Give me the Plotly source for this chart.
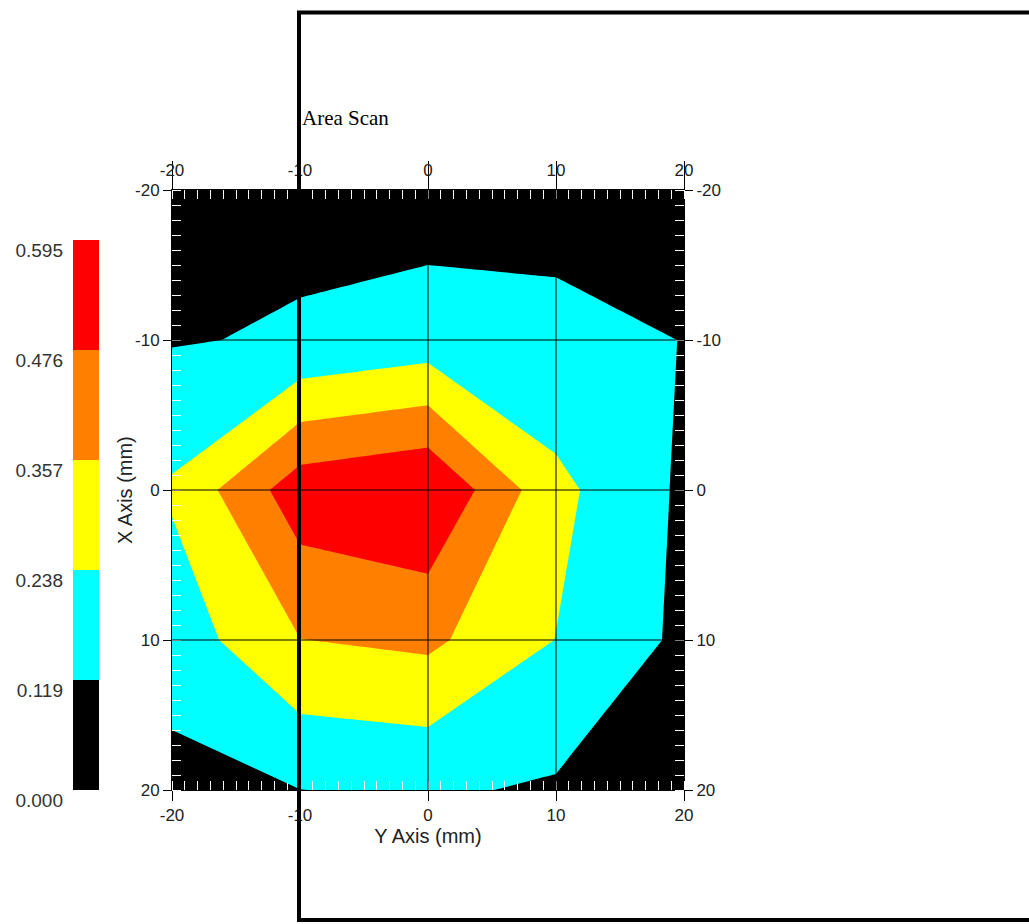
import plotly.graph_objects as go

# ---------------- data ----------------
y_axis_mm = [-20, -10, 0, 10, 20]          # horizontal axis ("Y Axis (mm)")
x_axis_mm = [-20, -10, 0, 10, 20]          # vertical axis ("X Axis (mm)"), top = -20
# rows follow x_axis_mm (top to bottom), columns follow y_axis_mm (left to right)
row_m20 = [0.050, 0.091, 0.064, 0.094, 0.060]
row_m10 = [0.112, 0.130, 0.174, 0.137, 0.118]
row_0 = [0.253, 0.545, 0.595, 0.270, 0.100]
row_p10 = [0.170, 0.355, 0.382, 0.236, 0.095]
row_p20 = [0.085, 0.118, 0.134, 0.105, 0.050]
z_grid = [row_m20, row_m10, row_0, row_p10, row_p20]

levels = [0.000, 0.119, 0.238, 0.357, 0.476, 0.595]
level_labels = ["0.000", "0.119", "0.238", "0.357", "0.476", "0.595"]
band_colors = ["#000000", "#00FFFF", "#FFFF00", "#FF8000", "#FF0000"]
axis_ticks = [-20, -10, 0, 10, 20]
axis_tick_labels = ["-20", "-10", "0", "10", "20"]
grid_ticks = [-10, 0, 10]

# ---------------- layout helpers ----------------
W, H = 1029, 924


def fx(p):
    return p / W


def fy(p):
    return 1 - p / H


n = len(band_colors)
colorscale = [[i / (n - 1), c] for i, c in enumerate(band_colors)]

fig = go.Figure()

fig.add_trace(go.Contour(
    x=y_axis_mm, y=x_axis_mm, z=z_grid,
    colorscale=colorscale, showscale=False,
    contours=dict(start=levels[1], end=levels[-2], size=levels[1] - levels[0],
                  coloring="fill", showlines=False),
    line=dict(width=0, smoothing=0),
    hoverinfo="skip",
))

# colour key as a stacked heatmap column
fig.add_trace(go.Heatmap(
    x=[0, 1], y=levels, z=[[i] for i in range(n)],
    colorscale=colorscale, zmin=0, zmax=n - 1, showscale=False,
    xaxis="x3", yaxis="y3", hoverinfo="skip",
))

FONT = "Liberation Sans, Arial, sans-serif"
tickfont = dict(family=FONT, size=17, color="#222")
titlefont = dict(family=FONT, size=20, color="#222")
minor_common = dict(ticks="inside", dtick=1, ticklen=9, tickcolor="white", tickwidth=1)

common_x = dict(range=[-20, 20], tickvals=axis_ticks, ticktext=axis_tick_labels,
                showgrid=False, zeroline=False,
                showline=True, linecolor="black", linewidth=1, ticks="outside",
                tickcolor="black", tickfont=tickfont, layer="above traces",
                minor=minor_common, domain=[fx(172), fx(684)], automargin=False)
common_y = dict(range=[20, -20], tickvals=axis_ticks, ticktext=axis_tick_labels,
                showgrid=False, zeroline=False,
                showline=True, linecolor="black", linewidth=1, ticks="outside",
                tickcolor="black", tickfont=tickfont, layer="above traces",
                minor=minor_common, domain=[fy(790), fy(190)], automargin=False)

fig.update_layout(
    width=W, height=H, margin=dict(l=0, r=0, t=0, b=0, autoexpand=False),
    paper_bgcolor="white", plot_bgcolor="black", showlegend=False,
    xaxis=dict(**common_x, side="bottom", anchor="y", ticklen=10,
               title=dict(text="Y Axis (mm)", font=titlefont, standoff=4)),
    xaxis2=dict(**common_x, side="top", anchor="y", overlaying="x", matches="x",
                ticklen=28, ticklabelstandoff=-22),
    yaxis=dict(**common_y, side="left", anchor="x", ticklen=8),
    yaxis2=dict(**common_y, side="right", anchor="x", overlaying="y", matches="y",
                ticklen=8),
    xaxis3=dict(domain=[fx(73), fx(99)], range=[0, 1], anchor="y3", automargin=False,
                showticklabels=False, showgrid=False, zeroline=False, ticks=""),
    yaxis3=dict(domain=[fy(790), fy(240)], range=[levels[0], levels[-1]], anchor="x3",
                tickvals=levels, ticktext=level_labels, ticks="", showgrid=False,
                zeroline=False, side="left", automargin=False,
                tickfont=dict(family=FONT, size=19, color="#333"),
                ticklabelstandoff=9, ticklabelshift=10),
)

# vertical axis title
fig.add_annotation(text="X Axis (mm)", xref="paper", yref="paper", x=fx(125), y=fy(490),
                   textangle=-90, showarrow=False, xanchor="center", yanchor="middle",
                   font=titlefont)

# grid lines drawn over the filled contours
for g in grid_ticks:
    fig.add_shape(type="line", xref="x", yref="y", x0=g, x1=g, y0=-20, y1=20,
                  line=dict(color="black", width=1), layer="above")
    fig.add_shape(type="line", xref="x", yref="y", x0=-20, x1=20, y0=g, y1=g,
                  line=dict(color="black", width=1), layer="above")

# outer frame overlay
fig.add_shape(type="rect", xref="paper", yref="paper",
              x0=fx(299), x1=fx(1040), y0=fy(920), y1=fy(12.5),
              line=dict(color="black", width=4), fillcolor="rgba(0,0,0,0)", layer="above")

fig.add_annotation(text="Area Scan", xref="paper", yref="paper", x=fx(300), y=fy(118),
                   xanchor="left", yanchor="middle", showarrow=False,
                   font=dict(family="Liberation Serif, Times New Roman, serif", size=21, color="black"))

# dummy trace so the overlaying axes are rendered
fig.add_trace(go.Scatter(x=[None], y=[None], xaxis="x2", yaxis="y2", showlegend=False))

fig.write_html("out.html", config={"displayModeBar": False},
               post_script="document.body.style.margin='0';document.body.style.overflow='hidden';")
